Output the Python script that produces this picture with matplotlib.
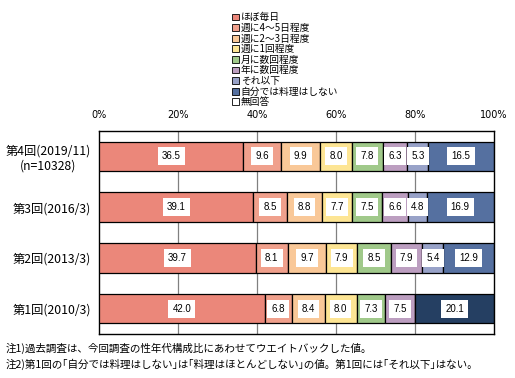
import numpy as np
import matplotlib
matplotlib.use("Agg")
import matplotlib.pyplot as plt
from matplotlib.patches import Patch

plt.rcParams['font.family'] = ['Noto Sans CJK JP', 'DejaVu Sans']

# Data
rounds = ['第4回(2019/11)\n(n=10328)', '第3回(2016/3)', '第2回(2013/3)', '第1回(2010/3)']
series = ['ほぼ毎日', '週に4～5日程度', '週に2～3日程度', '週に1回程度', '月に数回程度',
          '年に数回程度', 'それ以下', '自分では料理はしない', '無回答']
every_day = [36.5, 39.1, 39.7, 42.0]
w4_5 = [9.6, 8.5, 8.1, 6.8]
w2_3 = [9.9, 8.8, 9.7, 8.4]
w1 = [8.0, 7.7, 7.9, 8.0]
monthly = [7.8, 7.5, 8.5, 7.3]
yearly = [6.3, 6.6, 7.9, 7.5]
less = [5.3, 4.8, 5.4, 0.0]
no_cook = [16.5, 16.9, 12.9, 20.1]
no_answer = [0.1, 0.1, 0.0, 0.0]
values = [every_day, w4_5, w2_3, w1, monthly, yearly, less, no_cook, no_answer]

colors = ['#EB877A', '#F0A08C', '#F9C898', '#FDE594', '#A0C98A',
          '#BC9EC0', '#98A2C8', '#5570A0', '#FFFFFF']
first_round_no_cook = '#253F62'

fig = plt.figure(figsize=(5.15, 3.78), dpi=100)
ax = fig.add_axes([0.1922, 0.1164, 0.7670, 0.5370])

y = np.arange(len(rounds))
left = np.zeros(len(rounds))
for i, (name, vals) in enumerate(zip(series, values)):
    vals = np.array(vals)
    cols = [colors[i]] * len(rounds)
    if name == '自分では料理はしない':
        cols[3] = first_round_no_cook
    ax.barh(y, vals, left=left, height=0.58, color=cols, edgecolor='black',
            linewidth=0.9, zorder=3)
    for j, v in enumerate(vals):
        if v >= 1:
            ax.text(left[j] + v / 2, y[j], f'{v:.1f}', ha='center', va='center',
                    fontsize=7, family='Liberation Sans', zorder=4,
                    bbox=dict(boxstyle='square,pad=0.42', fc='white', ec='none'))
    left += vals

ax.set_xlim(0, 100)
ax.set_ylim(3.5, -0.5)
ax.set_yticks(y)
ax.set_yticklabels(rounds, fontsize=8.8, multialignment='center')
ax.set_xticks([0, 20, 40, 60, 80, 100])
ax.set_xticklabels(['0%', '20%', '40%', '60%', '80%', '100%'], fontsize=7,
                   family='DejaVu Sans')
ax.xaxis.tick_top()
ax.tick_params(axis='both', length=0)
ax.tick_params(axis='x', pad=8)
ax.tick_params(axis='y', pad=6)
for x in [20, 40, 60, 80]:
    ax.axvline(x, color='#808080', linewidth=0.9, zorder=1)
for s in ax.spines.values():
    s.set_color('black')
    s.set_linewidth(1.0)

handles = [Patch(facecolor=c, edgecolor='black', linewidth=0.6) for c in colors]
fig.legend(handles, series, loc='upper left', bbox_to_anchor=(0.437, 0.985),
           frameon=False, fontsize=7, handlelength=0.7, handleheight=0.7,
           handletextpad=0.2, labelspacing=0.06, borderpad=0.2)

fig.text(0.01, 0.078, '注1)過去調査は、今回調査の性年代構成比にあわせてウエイトバックした値。',
         fontsize=7.6, va='center')
fig.text(0.01, 0.036, '注2)第1回の｢自分では料理はしない｣は｢料理はほとんどしない｣の値。第1回には｢それ以下｣はない。',
         fontsize=7.6, va='center')

fig.savefig('out.png', dpi=100)
